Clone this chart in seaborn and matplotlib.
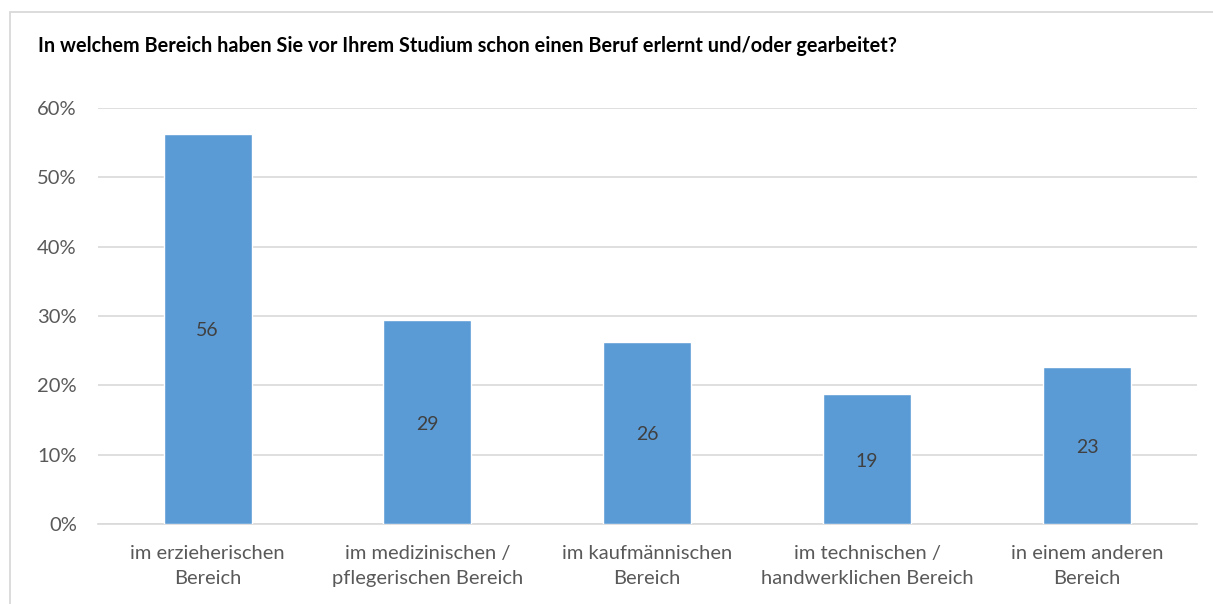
import matplotlib
matplotlib.use("Agg")
import matplotlib.pyplot as plt
import seaborn as sns
import pandas as pd
from matplotlib.patches import Rectangle
from matplotlib.ticker import FuncFormatter

categories = [
    "im erzieherischen\nBereich",
    "im medizinischen /\npflegerischen Bereich",
    "im kaufmännischen\nBereich",
    "im technischen /\nhandwerklichen Bereich",
    "in einem anderen\nBereich",
]
shares = [56.3, 29.4, 26.3, 18.7, 22.7]
title = "In welchem Bereich haben Sie vor Ihrem Studium schon einen Beruf erlernt und/oder gearbeitet?"

df = pd.DataFrame({"Bereich": categories, "Anteil": shares})

sns.set_theme(style="white")
plt.rcParams["font.family"] = ["Lato", "DejaVu Sans"]

fig = plt.figure(figsize=(12.13, 6.04), dpi=100)
ax = fig.add_axes([97.6 / 1213, 1 - 524 / 604, (1197 - 97.6) / 1213, (524 - 108) / 604])

sns.barplot(data=df, x="Bereich", y="Anteil", color="#5B9BD5", width=0.40,
            saturation=1, ax=ax, zorder=3)

ax.set_ylim(0, 60)
ax.set_yticks(range(0, 61, 10))
ax.yaxis.set_major_formatter(FuncFormatter(lambda v, _: f"{v:.0f}%"))
ax.grid(axis="y", color="#D9D9D9", linewidth=1.2, zorder=0)
ax.set_axisbelow(True)
for s in ["top", "right", "left"]:
    ax.spines[s].set_visible(False)
ax.spines["bottom"].set_color("#D9D9D9")
ax.spines["bottom"].set_linewidth(1.2)
ax.set_xlabel("")
ax.set_ylabel("")
ax.tick_params(axis="both", length=0, labelsize=14.5, colors="#595959")
ax.tick_params(axis="y", pad=15)
ax.tick_params(axis="x", pad=15)
for lbl in ax.get_xticklabels():
    lbl.set_linespacing(1.55)

for patch, v in zip(ax.patches, shares):
    ax.text(patch.get_x() + patch.get_width() / 2, v / 2 - 0.3, f"{v:.0f}",
            ha="center", va="center", fontsize=14, color="#404040", zorder=4)

fig.text(38 / 1213, 1 - 46 / 604, title, ha="left", va="center",
         fontsize=14.3, fontweight="bold", color="#000000")

# chart frame
fig.patches.append(Rectangle((9.5 / 1213, -0.01), 1.02, 1 - 12.5 / 604 + 0.01,
                             transform=fig.transFigure, fill=False,
                             edgecolor="#D9D9D9", linewidth=1.3))

fig.savefig("out.png", dpi=100, facecolor="white")
